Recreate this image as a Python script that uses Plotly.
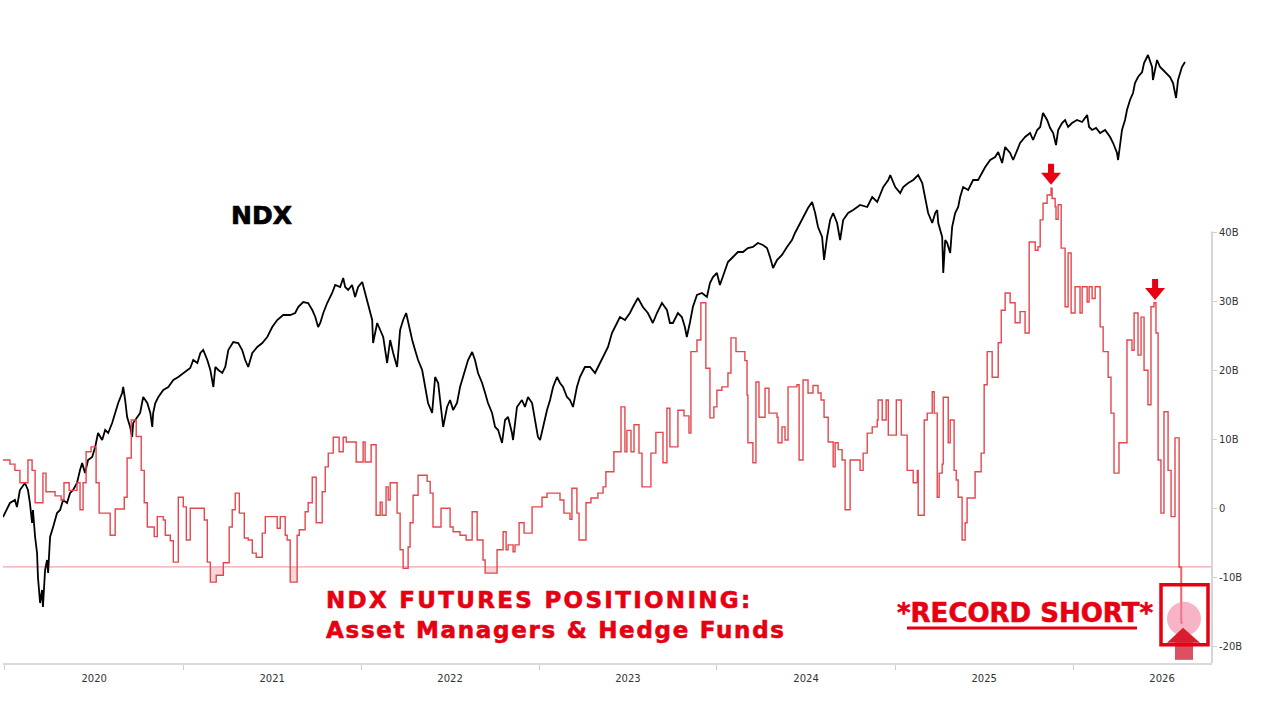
import math
from datetime import datetime
import numpy as np
import plotly.graph_objects as go

# ---------------- data (dates as decimal years) ----------------
NDX_T = [2019.989, 2020.028, 2020.056, 2020.067, 2020.084, 2020.112, 2020.129, 2020.140, 2020.152, 2020.157,
         2020.169, 2020.180, 2020.185, 2020.197, 2020.208, 2020.213, 2020.225, 2020.236, 2020.242, 2020.253,
         2020.270, 2020.292, 2020.309, 2020.326, 2020.348, 2020.365, 2020.382, 2020.404, 2020.421, 2020.433,
         2020.449, 2020.466, 2020.489, 2020.506, 2020.522, 2020.545, 2020.562, 2020.579, 2020.601, 2020.618,
         2020.635, 2020.657, 2020.663, 2020.674, 2020.685, 2020.702, 2020.713, 2020.719, 2020.742, 2020.758,
         2020.775, 2020.798, 2020.815, 2020.826, 2020.831, 2020.843, 2020.860, 2020.888, 2020.916, 2020.944,
         2020.972, 2021.000, 2021.022, 2021.039, 2021.056, 2021.079, 2021.096, 2021.112, 2021.135, 2021.152,
         2021.169, 2021.180, 2021.197, 2021.219, 2021.236, 2021.253, 2021.281, 2021.309, 2021.331, 2021.348,
         2021.365, 2021.388, 2021.416, 2021.444, 2021.472, 2021.500, 2021.528, 2021.562, 2021.601, 2021.629,
         2021.646, 2021.674, 2021.702, 2021.725, 2021.742, 2021.758, 2021.770, 2021.787, 2021.809, 2021.837,
         2021.854, 2021.882, 2021.899, 2021.910, 2021.927, 2021.949, 2021.966, 2021.983, 2022.006, 2022.022,
         2022.039, 2022.062, 2022.067, 2022.090, 2022.107, 2022.124, 2022.146, 2022.163, 2022.180, 2022.202,
         2022.219, 2022.236, 2022.253, 2022.264, 2022.287, 2022.303, 2022.320, 2022.343, 2022.360, 2022.376,
         2022.399, 2022.416, 2022.433, 2022.455, 2022.461, 2022.483, 2022.500, 2022.517, 2022.539, 2022.556,
         2022.584, 2022.601, 2022.624, 2022.640, 2022.657, 2022.680, 2022.697, 2022.713, 2022.736, 2022.753,
         2022.770, 2022.792, 2022.809, 2022.826, 2022.848, 2022.854, 2022.876, 2022.904, 2022.921, 2022.938,
         2022.961, 2022.978, 2022.994, 2023.006, 2023.022, 2023.045, 2023.062, 2023.079, 2023.101, 2023.118,
         2023.135, 2023.157, 2023.174, 2023.191, 2023.213, 2023.230, 2023.258, 2023.287, 2023.315, 2023.331,
         2023.354, 2023.371, 2023.388, 2023.410, 2023.427, 2023.455, 2023.483, 2023.511, 2023.528, 2023.556,
         2023.584, 2023.612, 2023.640, 2023.663, 2023.691, 2023.719, 2023.736, 2023.753, 2023.781, 2023.803,
         2023.820, 2023.831, 2023.848, 2023.865, 2023.888, 2023.916, 2023.944, 2023.961, 2023.978, 2024.000,
         2024.017, 2024.034, 2024.062, 2024.090, 2024.118, 2024.146, 2024.174, 2024.202, 2024.230, 2024.258,
         2024.281, 2024.298, 2024.315, 2024.337, 2024.365, 2024.393, 2024.421, 2024.438, 2024.455, 2024.483,
         2024.511, 2024.534, 2024.551, 2024.567, 2024.590, 2024.601, 2024.618, 2024.635, 2024.652, 2024.674,
         2024.691, 2024.708, 2024.736, 2024.764, 2024.803, 2024.843, 2024.871, 2024.899, 2024.933, 2024.961,
         2024.972, 2025.000, 2025.028, 2025.045, 2025.073, 2025.101, 2025.129, 2025.152, 2025.169, 2025.185,
         2025.208, 2025.225, 2025.236, 2025.242, 2025.264, 2025.270, 2025.281, 2025.292, 2025.309, 2025.320,
         2025.337, 2025.354, 2025.365, 2025.382, 2025.410, 2025.438, 2025.466, 2025.489, 2025.506, 2025.534,
         2025.562, 2025.579, 2025.601, 2025.618, 2025.646, 2025.663, 2025.685, 2025.702, 2025.730, 2025.758,
         2025.775, 2025.798, 2025.815, 2025.831, 2025.854, 2025.871, 2025.888, 2025.904, 2025.916, 2025.938,
         2025.955, 2025.972, 2025.994, 2026.022, 2026.051, 2026.079, 2026.090, 2026.107, 2026.129, 2026.152,
         2026.180, 2026.208, 2026.225, 2026.247, 2026.253, 2026.264, 2026.275, 2026.292, 2026.303, 2026.320,
         2026.337, 2026.348, 2026.365, 2026.388, 2026.399, 2026.421, 2026.444, 2026.449, 2026.472, 2026.489,
         2026.506, 2026.528, 2026.545, 2026.562, 2026.579, 2026.590, 2026.612, 2026.629]
NDX_V = [9380, 9800, 9890, 9680, 10190, 10400, 10190, 9800, 9200, 9590,
         8780, 8300, 7580, 6800, 7190, 6680, 7790, 8090, 7700, 8780,
         9080, 9500, 9590, 9890, 9800, 10100, 10190, 10400, 10790, 11000,
         10700, 11090, 11180, 11480, 11900, 11690, 11990, 11900, 12200, 12500,
         12800, 13100, 13280, 12890, 12380, 12080, 11780, 12200, 12380, 12500,
         12980, 12800, 12500, 12080, 12500, 12800, 12980, 13190, 13280, 13490,
         13580, 13700, 13790, 13850, 14090, 14000, 14300, 14390, 14090, 13790,
         13280, 13880, 13790, 13700, 13880, 14390, 14630, 14600, 14390, 14090,
         13880, 14300, 14480, 14600, 14780, 15080, 15290, 15440, 15440, 15500,
         15680, 15830, 15800, 15590, 15380, 15080, 15200, 15500, 15800, 16100,
         16340, 16280, 16550, 16280, 16190, 16340, 15980, 16280, 16430, 16100,
         15680, 15290, 14600, 15200, 14990, 14780, 14000, 14690, 14300, 13880,
         14990, 15290, 15500, 15200, 14690, 14390, 14090, 13790, 13280, 12800,
         12500, 13580, 13400, 12380, 12080, 12680, 12890, 12590, 12800, 13280,
         13790, 14090, 14330, 14090, 13700, 13400, 13100, 12800, 12500, 12080,
         11990, 11600, 12290, 12380, 11900, 11690, 12680, 12890, 12680, 12980,
         12800, 12200, 11780, 11690, 12080, 12590, 12890, 13280, 13580, 13400,
         13280, 12980, 12890, 12680, 13280, 13580, 13880, 13880, 13700, 13880,
         14090, 14300, 14480, 14900, 15080, 15380, 15290, 15500, 15680, 15950,
         15680, 15500, 15200, 15500, 15800, 15590, 15200, 15200, 15500, 15380,
         15080, 14780, 15200, 15680, 16040, 16100, 15980, 16400, 16580, 16700,
         16340, 16580, 17030, 17180, 17330, 17330, 17450, 17480, 17600, 17540,
         17450, 17180, 16850, 17090, 17240, 17480, 17690, 17900, 18080, 18380,
         18650, 18830, 18500, 18080, 17780, 17090, 17780, 18290, 18500, 18200,
         17690, 18290, 18500, 18590, 18740, 18680, 18980, 18830, 19280, 19490,
         19640, 19280, 19100, 19280, 19400, 19490, 19640, 19400, 18980, 18500,
         18200, 18500, 18590, 18200, 17780, 16700, 17690, 17600, 17300, 18080,
         18500, 18680, 18980, 19280, 19190, 19490, 19490, 19700, 19880, 20090,
         20180, 20330, 20000, 20480, 20300, 20090, 20390, 20600, 20780, 20900,
         20690, 20990, 21080, 21500, 21290, 21050, 20900, 20540, 20990, 21200,
         21290, 21080, 21200, 21290, 21230, 21440, 21080, 20990, 21050, 20900,
         20990, 20780, 20600, 20300, 20090, 20600, 20990, 21290, 21590, 21890,
         22100, 22400, 22580, 22730, 23000, 23240, 22880, 22490, 23090, 22880,
         22790, 22700, 22580, 22400, 21950, 22490, 22880, 23030]

POS_T = [2019.989, 2020.028, 2020.056, 2020.084, 2020.129, 2020.152, 2020.169, 2020.213, 2020.230, 2020.281,
         2020.315, 2020.331, 2020.360, 2020.404, 2020.421, 2020.438, 2020.455, 2020.483, 2020.511, 2020.528,
         2020.590, 2020.618, 2020.669, 2020.685, 2020.708, 2020.736, 2020.764, 2020.781, 2020.798, 2020.837,
         2020.854, 2020.888, 2020.899, 2020.927, 2020.944, 2020.972, 2021.000, 2021.017, 2021.039, 2021.118,
         2021.135, 2021.152, 2021.185, 2021.225, 2021.258, 2021.275, 2021.292, 2021.315, 2021.343, 2021.365,
         2021.388, 2021.410, 2021.444, 2021.461, 2021.528, 2021.545, 2021.573, 2021.584, 2021.601, 2021.640,
         2021.652, 2021.685, 2021.702, 2021.725, 2021.747, 2021.781, 2021.798, 2021.815, 2021.843, 2021.876,
         2021.899, 2021.916, 2021.972, 2022.011, 2022.022, 2022.056, 2022.084, 2022.107, 2022.118, 2022.140,
         2022.152, 2022.163, 2022.202, 2022.219, 2022.236, 2022.264, 2022.275, 2022.292, 2022.320, 2022.371,
         2022.388, 2022.404, 2022.449, 2022.500, 2022.517, 2022.556, 2022.590, 2022.624, 2022.652, 2022.685,
         2022.697, 2022.764, 2022.798, 2022.815, 2022.826, 2022.854, 2022.865, 2022.888, 2022.916, 2022.961,
         2023.017, 2023.045, 2023.118, 2023.140, 2023.174, 2023.185, 2023.213, 2023.225, 2023.264, 2023.292,
         2023.331, 2023.360, 2023.376, 2023.421, 2023.461, 2023.483, 2023.494, 2023.517, 2023.534, 2023.562,
         2023.579, 2023.629, 2023.657, 2023.697, 2023.719, 2023.736, 2023.781, 2023.815, 2023.843, 2023.854,
         2023.888, 2023.910, 2023.938, 2023.961, 2023.983, 2024.000, 2024.028, 2024.062, 2024.079, 2024.107,
         2024.157, 2024.169, 2024.174, 2024.202, 2024.219, 2024.236, 2024.270, 2024.292, 2024.337, 2024.343,
         2024.365, 2024.382, 2024.399, 2024.449, 2024.461, 2024.483, 2024.511, 2024.539, 2024.567, 2024.584,
         2024.601, 2024.624, 2024.652, 2024.663, 2024.680, 2024.702, 2024.719, 2024.747, 2024.803, 2024.820,
         2024.843, 2024.871, 2024.899, 2024.904, 2024.927, 2024.949, 2024.961, 2025.006, 2025.034, 2025.067,
         2025.101, 2025.124, 2025.129, 2025.163, 2025.180, 2025.208, 2025.219, 2025.236, 2025.247, 2025.264,
         2025.270, 2025.298, 2025.309, 2025.331, 2025.343, 2025.354, 2025.376, 2025.393, 2025.404, 2025.449,
         2025.483, 2025.500, 2025.517, 2025.545, 2025.579, 2025.596, 2025.618, 2025.646, 2025.674, 2025.702,
         2025.730, 2025.753, 2025.787, 2025.803, 2025.815, 2025.831, 2025.854, 2025.876, 2025.882, 2025.899,
         2025.904, 2025.916, 2025.933, 2025.955, 2025.972, 2025.989, 2026.011, 2026.039, 2026.051, 2026.079,
         2026.090, 2026.107, 2026.124, 2026.152, 2026.169, 2026.197, 2026.213, 2026.230, 2026.258, 2026.303,
         2026.331, 2026.343, 2026.365, 2026.382, 2026.399, 2026.421, 2026.438, 2026.455, 2026.466, 2026.478,
         2026.494, 2026.511, 2026.534, 2026.551, 2026.573, 2026.596, 2026.607, 2026.618]
POS_B = [7.1, 6.5, 5.6, 3.8, 7.1, 5.6, 0.9, 5.2, 2.5, 1.9,
         1.3, 3.8, 2.7, 3.8, -0.1, 3.8, 8.3, 9.0, 3.8, -0.6,
         -3.8, 0.0, 1.7, 7.4, 12.9, 10.5, 5.6, 0.9, -2.6, -4.0,
         -1.1, -1.6, -3.8, -4.6, -7.7, 1.7, 0.3, -4.5, 0.1, -1.6,
         -7.7, -10.6, -9.6, -7.8, -2.6, -0.1, 2.3, -0.6, -4.2, -4.5,
         -6.4, -7.0, -3.5, -1.1, -2.8, -1.1, -3.8, -4.5, -10.6, -3.8,
         -3.0, -0.4, 0.9, 4.6, -2.0, 2.5, 6.1, 8.1, 10.4, 8.3,
         10.4, 9.7, 6.8, 9.7, 6.8, 9.3, -0.9, 1.0, -0.9, 3.2,
         1.3, 3.8, -0.6, -5.9, -8.6, -5.5, -2.0, 2.0, 4.9, 4.0,
         2.3, -2.6, 0.1, -2.6, -3.3, -3.8, -4.5, -0.4, -4.5, -7.4,
         -9.3, -5.9, -3.3, -5.9, -5.2, -6.2, -5.2, -2.0, -3.5, 0.3,
         1.7, 2.3, 1.3, -0.6, -1.5, 3.0, -0.6, -4.5, 0.9, 1.6,
         2.3, 3.2, 5.4, 8.3, 14.8, 8.3, 11.4, 8.3, 12.2, 8.1,
         3.2, 8.1, 11.1, 6.7, 14.6, 9.0, 14.3, 13.5, 11.0, 22.8,
         24.5, 29.9, 20.4, 13.2, 14.8, 17.2, 17.7, 19.7, 24.8, 22.8,
         21.5, 16.5, 9.6, 6.7, 18.4, 13.3, 17.5, 13.9, 13.3, 9.6,
         11.9, 10.0, 17.7, 18.0, 7.1, 18.7, 16.8, 17.9, 16.8, 15.8,
         13.3, 9.7, 6.1, 9.6, 8.6, 7.1, -0.1, 7.1, 5.6, 8.1,
         11.0, 11.9, 12.9, 15.8, 12.9, 15.8, 10.7, 15.8, 10.7, 5.6,
         3.8, 5.6, -0.9, 12.9, 13.9, 17.0, 13.9, 1.7, 5.2, 6.5,
         16.2, 9.6, 12.9, 5.6, 4.2, 1.7, -4.5, -2.0, 1.6, 5.4,
         8.1, 18.0, 22.8, 19.1, 24.1, 28.8, 31.3, 29.9, 27.0, 28.6,
         25.5, 38.7, 37.5, 38.0, 41.9, 44.3, 45.5, 46.5, 45.0, 43.8,
         42.0, 44.1, 37.8, 29.3, 37.1, 28.4, 32.2, 28.4, 32.2, 30.0,
         32.2, 30.5, 32.2, 26.4, 22.8, 19.1, 13.9, 5.2, 9.6, 24.5,
         23.0, 28.4, 22.3, 27.8, 20.1, 15.1, 29.3, 29.9, 25.5, 7.1,
         -0.6, 14.1, 5.6, -1.1, 10.3, -8.4, -16.5, -16.5]

PRIOR_LOW_B = -8.4                      # horizontal reference line (billions)
Y2_TICKS = [-20, -10, 0, 10, 20, 30, 40]
Y2_LABELS = ["-20B", "-10B", "0", "10B", "20B", "30B", "40B"]
PEAK_MARKS = [(2025.876, 47.0), (2026.461, 30.3)]   # red down-arrow tips

RED = "#e60012"
LINE_RED = "#e4474d"


def to_date(t):
    y = int(math.floor(t))
    start, end = datetime(y, 1, 1), datetime(y + 1, 1, 1)
    return start + (end - start) * (t - y)


ndx_x = [to_date(t) for t in NDX_T]
pos_x = [to_date(t) for t in POS_T]
pos_low = np.minimum(np.array(POS_B), PRIOR_LOW_B)

fig = go.Figure()
fig.add_trace(go.Scatter(x=ndx_x, y=NDX_V, mode="lines", line=dict(color="black", width=1.8),
                         yaxis="y", showlegend=False, hoverinfo="skip"))
fig.add_trace(go.Scatter(x=pos_x, y=[PRIOR_LOW_B] * len(pos_x), mode="lines", line=dict(width=0, shape="hv"),
                         yaxis="y2", showlegend=False, hoverinfo="skip"))
fig.add_trace(go.Scatter(x=pos_x, y=pos_low, mode="lines", line=dict(width=0, shape="hv"),
                         fill="tonexty", fillcolor="rgba(240,140,150,0.35)",
                         yaxis="y2", showlegend=False, hoverinfo="skip"))
fig.add_trace(go.Scatter(x=pos_x, y=POS_B, mode="lines", line=dict(color=LINE_RED, width=1.4, shape="hv"),
                         yaxis="y2", showlegend=False, hoverinfo="skip"))

shapes = []
# prior-low reference line
shapes.append(dict(type="line", xref="paper", x0=0, x1=1, yref="y2", y0=PRIOR_LOW_B, y1=PRIOR_LOW_B,
                   line=dict(color="#f2a3a3", width=1.2), layer="below"))
# right axis line (from bottom to top tick)
shapes.append(dict(type="line", xref="paper", x0=1, x1=1, yref="y2", y0=-22.32, y1=40.2,
                   line=dict(color="#d6d6d6", width=2)))
last_x, last_y = pos_x[-1], POS_B[-1]
# pink circle
shapes.append(dict(type="circle", xref="x", yref="y2", xsizemode="pixel", ysizemode="pixel",
                   xanchor=last_x, yanchor=last_y, x0=-16, x1=18, y0=-13, y1=21,
                   fillcolor="rgba(242,130,160,0.6)", line=dict(width=0)))
# up arrow
shapes.append(dict(type="path", xref="x", yref="y2", xsizemode="pixel", ysizemode="pixel",
                   xanchor=last_x, yanchor=last_y, path="M -8,-17 L 10,-17 L 10,-37 L -8,-37 Z",
                   fillcolor="rgba(214,50,70,0.85)", line=dict(width=0)))
shapes.append(dict(type="path", xref="x", yref="y2", xsizemode="pixel", ysizemode="pixel",
                   xanchor=last_x, yanchor=last_y, path="M -16,-20 L 17,-20 L 0,-5 Z",
                   fillcolor="#d81e2e", line=dict(width=0)))
# red box
shapes.append(dict(type="rect", xref="x", yref="y2", xsizemode="pixel", ysizemode="pixel",
                   xanchor=last_x, yanchor=last_y, x0=-22, x1=25, y0=-22, y1=38,
                   line=dict(color=RED, width=3.5)))
# down arrows on peaks
for t, v in PEAK_MARKS:
    d = to_date(t)
    shapes.append(dict(type="path", xref="x", yref="y2", xsizemode="pixel", ysizemode="pixel",
                       xanchor=d, yanchor=v,
                       path="M 0,0 L -10,12 L -3,12 L -3,21 L 3,21 L 3,12 L 10,12 Z",
                       fillcolor=RED, line=dict(width=0)))
# underline for RECORD SHORT
shapes.append(dict(type="line", xref="paper", yref="paper", x0=0.7477, x1=0.938, y0=0.0562, y1=0.0562,
                   line=dict(color=RED, width=3)))

BOLD = "DejaVu Sans"
HEAVY_RED = "stroke:#e60012;stroke-width:0.6px;"
annotations = [
    dict(text='<b><span style="stroke:#000;stroke-width:0.7px">NDX</span></b>', xref="paper", yref="paper",
         x=0.2134, y=0.7175, xanchor="center", yanchor="middle",
         showarrow=False, font=dict(family=BOLD, size=25, color="black")),
    dict(text=('<b><span style="letter-spacing:2.3px;' + HEAVY_RED + '">NDX FUTURES POSITIONING:</span></b><br>'
               '<b><span style="letter-spacing:1.7px;' + HEAVY_RED + '">Asset Managers &amp; Hedge Funds</span></b>'),
         xref="paper", yref="paper", x=0.2655, y=0.0775, align="left",
         xanchor="left", yanchor="middle", showarrow=False, font=dict(family=BOLD, size=23, color=RED)),
    dict(text='<b><span style="' + HEAVY_RED + '">*RECORD SHORT*</span></b>', xref="paper", yref="paper",
         x=0.7378, y=0.0803,
         xanchor="left", yanchor="middle", showarrow=False, font=dict(family=BOLD, size=26, color=RED)),
]

fig.update_layout(
    width=1266, height=712,
    margin=dict(l=3, r=54, t=40, b=49, pad=0),
    paper_bgcolor="white", plot_bgcolor="white",
    template="none",
    showlegend=False,
    xaxis=dict(type="date", range=[to_date(2019.989), to_date(2026.781)],
               tick0="2020-01-01", dtick="M12", ticklabelmode="period", tickformat="%Y",
               ticks="outside", ticklen=5, tickcolor="#cfcfcf", tickwidth=1,
               showline=True, linecolor="#d9d9d9", linewidth=2, showgrid=False, zeroline=False,
               tickfont=dict(family="DejaVu Sans", size=10, color="#333")),
    yaxis=dict(range=[5000, 23690], visible=False, showgrid=False, zeroline=False),
    yaxis2=dict(range=[-22.32, 67.97], overlaying="y", side="right", anchor="x",
                tickvals=Y2_TICKS, ticktext=Y2_LABELS, ticks="outside", ticklen=4,
                tickcolor="#cfcfcf", showline=False, showgrid=False, zeroline=False,
                tickfont=dict(family="DejaVu Sans", size=10, color="#333")),
    shapes=shapes,
    annotations=annotations,
)

fig.write_html("out.html", config={"displayModeBar": False},
               post_script="document.body.style.margin='0';")
